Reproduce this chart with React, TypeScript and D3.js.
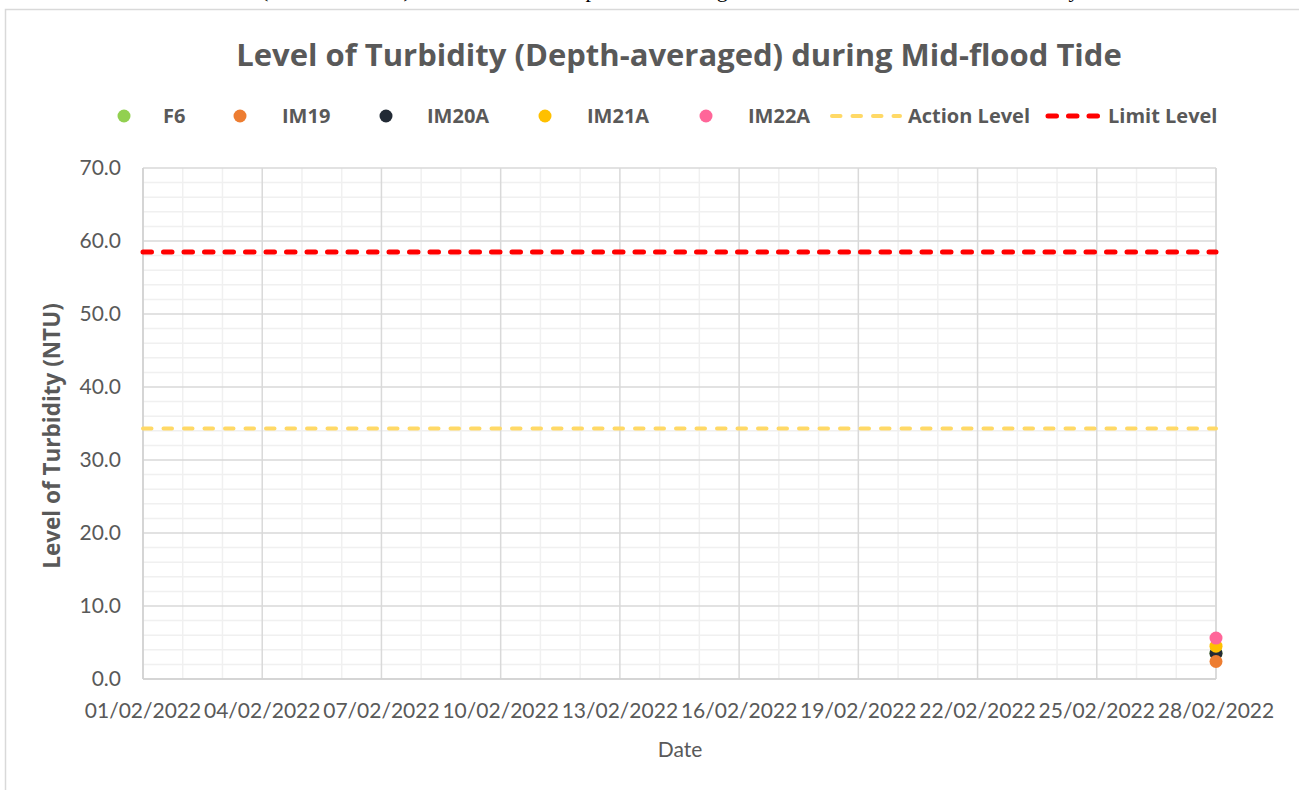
import React from "react";
import * as d3 from "d3";

// ---- data ----
const seriesNames = ["F6", "IM19", "IM20A", "IM21A", "IM22A"];
const seriesColors = ["#92D050", "#ED7D31", "#222A35", "#FFC000", "#FF6699"];
const sampleDates = ["2022-02-28"];
const seriesValues: number[][] = [
  [3.5], // F6 (hidden under IM20A)
  [2.4], // IM19
  [3.5], // IM20A
  [4.5], // IM21A
  [5.6], // IM22A
];
const drawOrder = [0, 2, 1, 3, 4];
const actionLevel = 34.3;
const limitLevel = 58.5;
const yTicks = [0, 10, 20, 30, 40, 50, 60, 70];
const xStart = "2022-02-01";
const xEnd = "2022-02-28";

const W = 1299;
const H = 790;
const M = { left: 143, right: 1216, top: 168, bottom: 679 };
const FONT = "Lato, 'Open Sans', sans-serif";
const BOLD = "'Open Sans', Lato, sans-serif";
const GREY = "#595959";

export default function App() {
  const parse = d3.utcParse("%Y-%m-%d");
  const fmt = d3.utcFormat("%d/%m/%Y");
  const x = d3
    .scaleUtc()
    .domain([parse(xStart)!, parse(xEnd)!])
    .range([M.left, M.right]);
  const y = d3.scaleLinear().domain([0, 70]).range([M.bottom, M.top]);

  const dayTicks = d3.utcDay.range(parse(xStart)!, d3.utcDay.offset(parse(xEnd)!, 1));
  const majorX = dayTicks.filter((_, i) => i % 3 === 0);
  const minorX = dayTicks.filter((_, i) => i % 3 !== 0);
  const minorY = d3.range(0, 70.001, 2).filter((v) => Math.abs(v % 10) > 0.01);

  const legendItems = [
    { type: "dot", color: seriesColors[0], label: seriesNames[0], mx: 124, tx: 163 },
    { type: "dot", color: seriesColors[1], label: seriesNames[1], mx: 240, tx: 282 },
    { type: "dot", color: seriesColors[2], label: seriesNames[2], mx: 386, tx: 427 },
    { type: "dot", color: seriesColors[3], label: seriesNames[3], mx: 545, tx: 587 },
    { type: "dot", color: seriesColors[4], label: seriesNames[4], mx: 706, tx: 748 },
    { type: "line", color: "#FFD966", label: "Action Level", mx: 832, tx: 908 },
    { type: "line", color: "#FF0000", label: "Limit Level", mx: 1048, tx: 1108 },
  ];
  const legendY = 116;

  return (
    <svg
      width={W}
      height={H}
      style={{ position: "absolute", left: 0, top: 0, background: "#fff" }}
      fontFamily={FONT}
    >
      {/* clipped document caption above the chart */}
      <text y={-3} fontFamily="'Liberation Serif', 'DejaVu Serif', serif" fontSize={22} fill="#000">
        <tspan x={261}>(Mid-flood Tide) at the</tspan>
        <tspan x={561}>Impact Monitoring Stations and Control Station</tspan>
        <tspan x={1000}>February</tspan>
      </text>
      <rect x={5.5} y={9.5} width={1400} height={900} fill="#fff" stroke="#d9d9d9" strokeWidth={1.5} />

      <text
        x={679}
        y={66}
        textAnchor="middle"
        fontFamily={BOLD}
        fontSize={31}
        fontWeight="bold"
        fill={GREY}
      >
        Level of Turbidity (Depth-averaged) during Mid-flood Tide
      </text>

      {/* legend */}
      {legendItems.map((it, i) => (
        <g key={i}>
          {it.type === "dot" ? (
            <circle cx={it.mx} cy={legendY} r={6.5} fill={it.color} />
          ) : (
            <line
              x1={it.mx}
              x2={it.tx - 8}
              y1={legendY}
              y2={legendY}
              stroke={it.color}
              strokeWidth={it.label === "Limit Level" ? 5 : 4}
              strokeDasharray="8.5 12"
              strokeLinecap="round"
            />
          )}
          <text x={it.tx} y={legendY + 7} fontFamily={BOLD} fontSize={20} fontWeight="bold" fill={GREY}>
            {it.label}
          </text>
        </g>
      ))}

      {/* minor grid */}
      {minorY.map((v) => (
        <line key={"my" + v} x1={M.left} x2={M.right} y1={y(v)} y2={y(v)} stroke="#f0f0f0" strokeWidth={1.5} />
      ))}
      {minorX.map((d, i) => (
        <line key={"mx" + i} x1={x(d)} x2={x(d)} y1={M.top} y2={M.bottom} stroke="#f0f0f0" strokeWidth={1.5} />
      ))}
      {/* major grid */}
      {yTicks.map((v) => (
        <line key={"gy" + v} x1={M.left} x2={M.right} y1={y(v)} y2={y(v)} stroke="#d9d9d9" strokeWidth={1.5} />
      ))}
      {majorX.map((d, i) => (
        <line key={"gx" + i} x1={x(d)} x2={x(d)} y1={M.top} y2={M.bottom} stroke="#d9d9d9" strokeWidth={1.5} />
      ))}
      <line x1={M.right} x2={M.right} y1={M.top} y2={M.bottom} stroke="#d9d9d9" strokeWidth={1.5} />
      <line x1={M.left} x2={M.left} y1={M.top} y2={M.bottom} stroke="#d0d0d0" strokeWidth={1.5} />
      <line x1={M.left} x2={M.right} y1={M.bottom} y2={M.bottom} stroke="#d0d0d0" strokeWidth={1.5} />

      {/* y ticks */}
      {yTicks.map((v) => (
        <text key={"yt" + v} x={121} y={y(v) + 7} textAnchor="end" fontSize={21} fill={GREY}>
          {v.toFixed(1)}
        </text>
      ))}
      {/* x ticks */}
      {majorX.map((d, i) => (
        <text key={"xt" + i} x={x(d)} y={718} textAnchor="middle" fontSize={21} fill={GREY}>
          {fmt(d)}
        </text>
      ))}

      <text x={680} y={757} textAnchor="middle" fontSize={21} fill={GREY}>
        Date
      </text>
      <text
        transform={`translate(60, ${436}) rotate(-90)`}
        textAnchor="middle"
        fontFamily={BOLD}
        fontSize={22.5}
        fontWeight="bold"
        fill={GREY}
      >
        Level of Turbidity (NTU)
      </text>

      {/* reference lines */}
      <line
        x1={M.left}
        x2={M.right}
        y1={y(actionLevel)}
        y2={y(actionLevel)}
        stroke="#FFD966"
        strokeWidth={4}
        strokeDasharray="8.5 12"
        strokeLinecap="round"
      />
      <line
        x1={M.left}
        x2={M.right}
        y1={y(limitLevel)}
        y2={y(limitLevel)}
        stroke="#FF0000"
        strokeWidth={5}
        strokeDasharray="8.5 12"
        strokeLinecap="round"
      />

      {/* points */}
      {drawOrder.map((si) =>
        seriesValues[si].map((v, j) => (
          <circle
            key={si + "-" + j}
            cx={x(parse(sampleDates[j])!)}
            cy={y(v)}
            r={6.5}
            fill={seriesColors[si]}
          />
        ))
      )}
    </svg>
  );
}
